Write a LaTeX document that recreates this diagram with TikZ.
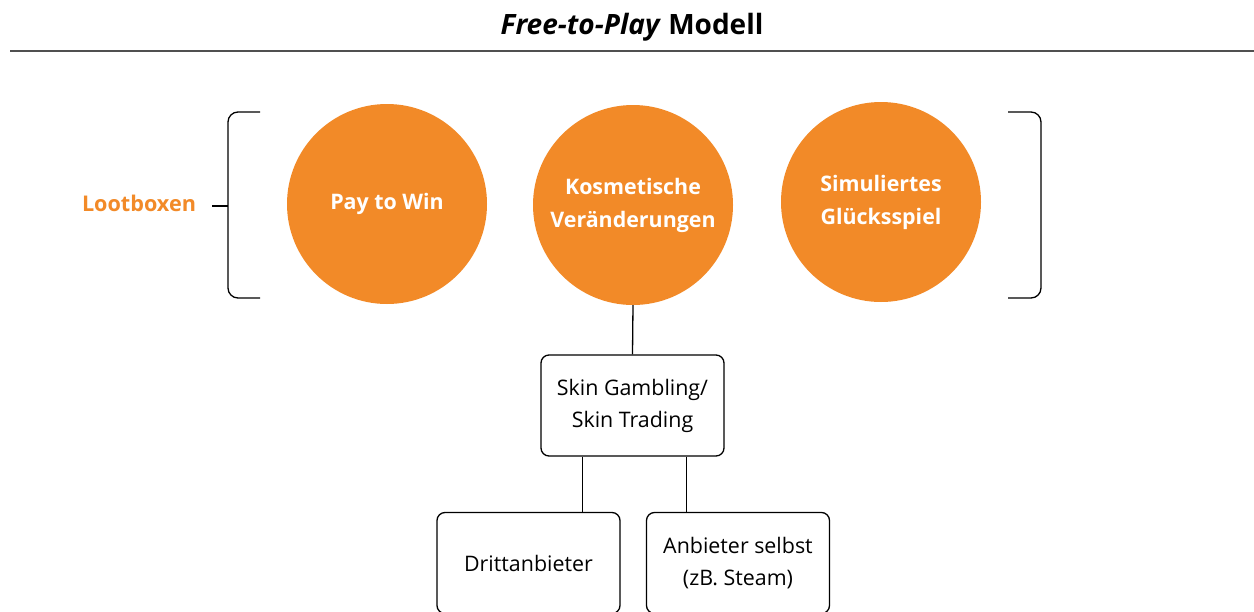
\documentclass[tikz,border=0pt]{standalone}
\usepackage{fontspec}
\setmainfont{Open Sans}
\definecolor{lootorange}{HTML}{F28A28}
\definecolor{rulegrey}{HTML}{505050}
\begin{document}
\begin{tikzpicture}[x=1pt,y=-1pt,
  circ/.style={circle, fill=lootorange, minimum size=200pt, inner sep=0pt, text=white,
    font=\bfseries\fontsize{21.4}{33}\selectfont, align=center},
  boxnode/.style={draw, rounded corners=8pt, line width=1.3pt, minimum width=183pt,
    minimum height=101pt, align=center, font=\fontsize{21.4}{32}\selectfont},
  conn/.style={line width=1.3pt},
  brack/.style={line width=1.3pt, rounded corners=10pt}]
\useasboundingbox (0,0) rectangle (1254,611);
\clip (0,0) rectangle (1254,611);
\fill[white] (0,0) rectangle (1254,611);
% title
\node[font=\bfseries\fontsize{28}{32}\selectfont] (title) at (632,27) {\textit{Free-to-Play} Modell};
\coordinate (ruleL) at (10,51);
\coordinate (ruleR) at (1254,51);
\draw[rulegrey, line width=2pt] (ruleL) -- (ruleR);
% circles
\node[circ] (pay) at (387,204) {Pay to Win};
\node[circ] (kos) at (633,205) {Kosmetische\\Veränderungen};
\node[circ] (sim) at (881,202) {Simuliertes\\Glücksspiel};
% lootboxen label and brackets
\node[text=lootorange, font=\bfseries\fontsize{21.6}{24}\selectfont] (loot) at (139,203) {Lootboxen};
\draw[brack] (260,112) -- (228,112) -- (228,298) -- (260,298);
\draw[brack] (1008,112) -- (1041,112) -- (1041,298) -- (1008,298);
\coordinate (tickL) at (212,206);
\coordinate (tickR) at (228,206);
\draw[conn] (tickL) -- (tickR);
% boxes
\node[boxnode] (skin) at (632.5,405.5) {Skin Gambling/\\Skin Trading};
\node[boxnode] (dritt) at (528.5,563) {Drittanbieter};
\node[boxnode] (anb) at (738,563) {Anbieter selbst\\(zB. Steam)};
% connectors
\draw[conn] (kos.south) -- (skin.north);
\draw[conn] ([xshift=-50pt]skin.south) -- ([xshift=-50pt]skin.south |- dritt.north);
\draw[conn] ([xshift=54pt]skin.south) -- ([xshift=54pt]skin.south |- anb.north);
\end{tikzpicture}
\end{document}
